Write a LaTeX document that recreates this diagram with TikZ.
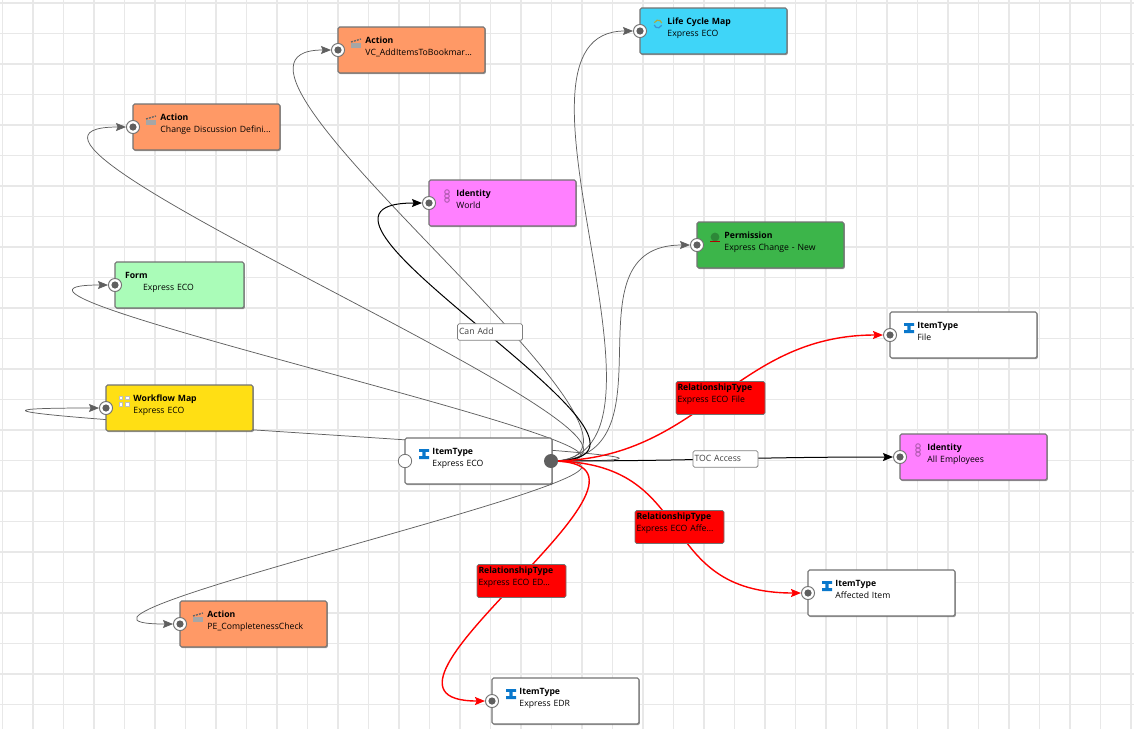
\documentclass[tikz,border=0pt]{standalone}
\usepackage{fontspec}
\setmainfont{Open Sans}
\usetikzlibrary{arrows.meta, backgrounds, calc, shadows}

\definecolor{actionorange}{HTML}{FF9966}
\definecolor{identitypink}{HTML}{FF80FF}
\definecolor{mapyellow}{HTML}{FFDF14}
\definecolor{mapcyan}{HTML}{3FD5F8}
\definecolor{permgreen}{HTML}{3CB54A}
\definecolor{formgreen}{HTML}{AAFCB8}
\definecolor{beamblue}{HTML}{0A78CC}
\definecolor{edgegray}{HTML}{5F5F5F}
\newcommand{\boxtext}[2]{\hspace*{20.6pt}\textbf{#1}\\\hspace*{20.6pt}#2}

\begin{document}
\begin{tikzpicture}[
    x=0.75pt, y=-0.75pt,
    % ── node styles ─────────────────────────────────────────
    itembox/.style = { draw=black!55, line width=0.8pt, rounded corners=1.2pt, fill=white,
            minimum width=110.25pt, minimum height=34.5pt, text width=110.25pt,
            inner xsep=0pt, inner ysep=0pt, text height=12pt, text depth=22.5pt, outer sep=0pt,
            align=left, anchor=north west, font=\fontsize{6.5}{9.6}\selectfont,
            drop shadow={shadow xshift=0.7pt, shadow yshift=-0.9pt, fill=black, opacity=0.35}, },
    relbox/.style = { draw=black!55, line width=0.6pt, rounded corners=1.2pt, fill=red,
            minimum width=66.75pt, minimum height=24.75pt, text width=64.5pt,
            inner xsep=1.1pt, inner ysep=0pt, text height=6.5pt, text depth=18.25pt,
            align=left, font=\fontsize{6.5}{9.6}\selectfont, },
    tag/.style = { draw=black!50, line width=0.6pt, rounded corners=1.2pt, fill=white,
            minimum width=48.75pt, minimum height=12.4pt, text width=46.5pt,
            inner xsep=1.1pt, inner ysep=0pt, text height=8.2pt, text depth=4.2pt,
            align=left, text=black!75, font=\fontsize{6.5}{8}\selectfont, },
    port/.style = { draw=black!55, circle, line width=0.7pt, fill=white, minimum size=9.8pt, inner sep=0pt,
            path picture={\fill[edgegray] (path picture bounding box.center) circle (3.6);}, },
    openport/.style = { draw=black!55, circle, line width=0.6pt, fill=white, minimum size=10pt, inner sep=0pt, },
    outport/.style = { circle, fill=edgegray, minimum size=10.5pt, inner sep=0pt, },
    gridline/.style = {line width=1.3pt, black!9},
    link/.style = {edgegray, line width=0.55pt, -{Stealth[length=7.5pt, width=6pt, inset=1.2pt]}},
    blacklink/.style = {link, black, line width=0.75pt},
    redlink/.style = {link, red, line width=1.05pt},
    % ── icons ───────────────────────────────────────────────
    beamicon/.pic = {
            \fill[beamblue] (-5,-5) rectangle (5,-2.2) (-5,2.2) rectangle (5,5) (-1.7,-3) rectangle (1.7,3);
        },
    clapicon/.pic = {
            \fill[black!35] (-5,0) rectangle (5,5);
            \draw[black!60, line width=1pt, dash pattern=on 1.5pt off 0.8pt] (-5,-1) -- (5,-4);
        },
    cycleicon/.pic = {
            \draw[beamblue!80, line width=0.9pt] (-3.8,1) arc (165:20:3.9);
            \draw[black!35!yellow, line width=0.9pt] (3.8,-1) arc (-15:-160:3.9);
        },
    peopleicon/.pic = {
            \foreach \py in {-4,0,4} {\draw[black!30!identitypink, line width=0.7pt] (0,\py) circle (2.3);}
        },
    shieldicon/.pic = {
            \fill[black!25!permgreen] (0,-1) circle (4.4);
            \draw[red!70!black, line width=0.8pt] (-5,3.8) -- (5,3.8);
        },
    flowicon/.pic = {
            \foreach \qx/\qy in {-3.2/-3.2, 3.2/-3.2, -3.2/3.2, 3.2/3.2} {
                    \draw[black!25, fill=white, line width=0.5pt] (\qx-1.8,\qy-1.8) rectangle (\qx+1.8,\qy+1.8);
                }
        },
    ]
    \useasboundingbox (0,0) rectangle (1134,729);

    % ============================================================
    % GRID
    % ============================================================
    \begin{scope}[on background layer]
        \fill[white] (0,0) rectangle (1134,729);
        \foreach \gx in {0,...,37} {\draw[gridline] (2.5+30.5*\gx,0) -- (2.5+30.5*\gx,729);}
        \foreach \gy in {0,...,23} {\draw[gridline] (0,3+30.5*\gy) -- (1134,3+30.5*\gy);}
    \end{scope}

    % ============================================================
    % LEFT SIDE — Actions, Form, Workflow Map
    % ============================================================
    \node[itembox, fill=actionorange] (action-vc) at (338,27)
    {\boxtext{Action}{VC\_AddItemsToBookmar...}};
    \node[itembox, fill=actionorange] (action-change) at (133,104)
    {\boxtext{Action}{Change Discussion Defini...}};
    \node[itembox, fill=formgreen, minimum width=96.75pt, text width=96.75pt] (form) at (115,262)
    {\hspace*{7.5pt}\textbf{Form}\\\hspace*{21pt}Express ECO};
    \node[itembox, fill=mapyellow] (workflow) at (106,385)
    {\boxtext{Workflow Map}{Express ECO}};
    \node[itembox, fill=actionorange] (action-pe) at (180,601)
    {\boxtext{Action}{PE\_CompletenessCheck}};

    % ============================================================
    % CENTRE — source item type, World
    % ============================================================
    \node[itembox] (eco) at (405,438) {\boxtext{ItemType}{Express ECO}};
    \node[itembox, fill=identitypink] (world) at (429,180) {\boxtext{Identity}{World}};

    % ============================================================
    % RIGHT SIDE — maps, permission, item types
    % ============================================================
    \node[itembox, fill=mapcyan] (lifecycle) at (640,8)
    {\boxtext{Life Cycle Map}{Express ECO}};
    \node[itembox, fill=permgreen] (permission) at (697,222)
    {\boxtext{Permission}{Express Change - New}};
    \node[itembox] (file) at (890,312) {\boxtext{ItemType}{File}};
    \node[itembox, fill=identitypink] (employees) at (900,434)
    {\boxtext{Identity}{All Employees}};
    \node[itembox] (affected) at (808,570) {\boxtext{ItemType}{Affected Item}};
    \node[itembox] (edr) at (492,678) {\boxtext{ItemType}{Express EDR}};

    % ============================================================
    % ICONS
    % ============================================================
    \pic at ($(action-vc.north west)+(18,16)$) {clapicon};
    \pic at ($(action-change.north west)+(18,16)$) {clapicon};
    \pic at ($(action-pe.north west)+(18,16)$) {clapicon};
    \pic at ($(workflow.north west)+(18,16)$) {flowicon};
    \pic at ($(world.north west)+(18,16)$) {peopleicon};
    \pic at ($(employees.north west)+(18,16)$) {peopleicon};
    \pic at ($(lifecycle.north west)+(18,16)$) {cycleicon};
    \pic at ($(permission.north west)+(18,16)$) {shieldicon};
    \pic at ($(eco.north west)+(19,16)$) {beamicon};
    \pic at ($(file.north west)+(19,16)$) {beamicon};
    \pic at ($(affected.north west)+(19,16)$) {beamicon};
    \pic at ($(edr.north west)+(19,16)$) {beamicon};

    % ============================================================
    % PORTS
    % ============================================================
    \node[port](action-vc-port) at (action-vc.west){};
    \node[port](action-change-port) at (action-change.west){};
    \node[port](form-port) at (form.west){};
    \node[port](workflow-port) at (workflow.west){};
    \node[port](action-pe-port) at (action-pe.west){};
    \node[port](world-port) at (world.west){};
    \node[port](lifecycle-port) at (lifecycle.west){};
    \node[port](permission-port) at (permission.west){};
    \node[port](file-port) at (file.west){};
    \node[port](employees-port) at (employees.west){};
    \node[port](affected-port) at (affected.west){};
    \node[port](edr-port) at (edr.west){};
    \node[openport](eco-in) at (eco.west){};
    \node[outport](eco-out) at ($(eco.east)+(-1,0)$){};

    % ============================================================
    % CONNECTORS
    % ============================================================
    \begin{scope}[on background layer]
        \draw[link] (eco-out.center) .. controls +(170,0) and +(-170,0) .. (action-vc-port.west);
        \draw[link] (eco-out.center) .. controls +(205,0) and +(-205,0) .. (action-change-port.west);
        \draw[link] (eco-out.center) .. controls +(195,0) and +(-195,0) .. (form-port.west);
        \draw[link] (eco-out.center) .. controls +(355,0) and +(-355,0) .. (workflow-port.west);
        \draw[link] (eco-out.center) .. controls +(190,0) and +(-190,0) .. (action-pe-port.west);
        \draw[link] (eco-out.center) .. controls +(150,0) and +(-150,0) .. (lifecycle-port.west);
        \draw[link] (eco-out.center) .. controls +(130,0) and +(-130,0) .. (permission-port.west);
        \draw[blacklink] (eco-out.center) .. controls +(175,0) and +(-175,0) .. (world-port.west);
        \draw[blacklink] (eco-out.center) .. controls +(150,0) and +(-150,0) .. (employees-port.west);
        \draw[redlink] (eco-out.center) .. controls +(150,0) and +(-150,0) .. (file-port.west);
        \draw[redlink] (eco-out.center) .. controls +(150,0) and +(-150,0) .. (affected-port.west);
        \draw[redlink] (eco-out.center) .. controls +(155,0) and +(-155,0) .. (edr-port.west);
    \end{scope}

    % ============================================================
    % CONNECTOR LABELS
    % ============================================================
    \node[tag](can-add) at ($(eco-out)!0.5!(world-port)$) {Can Add};
    \node[tag](toc-access) at ($(eco-out)!0.5!(employees-port)$) {TOC Access};
    \node[relbox](rel-file) at ($(eco-out)!0.5!(file-port)$)
    {\textbf{RelationshipType}\\Express ECO File};
    \node[relbox](rel-affected) at ($(eco-out)!0.5!(affected-port)$)
    {\textbf{RelationshipType}\\Express ECO Affe...};
    \node[relbox](rel-edr) at ($(eco-out)!0.5!(edr-port)$)
    {\textbf{RelationshipType}\\Express ECO ED...};

\end{tikzpicture}
\end{document}
